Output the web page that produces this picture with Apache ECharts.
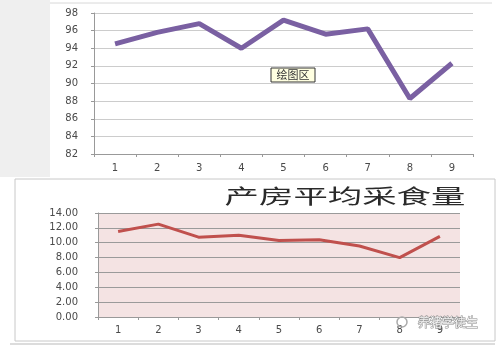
<!DOCTYPE html>
<html>
<head>
<meta charset="utf-8">
<script src="https://cdn.jsdelivr.net/npm/echarts@6/dist/echarts.min.js"></script>
<style>
  html, body { margin: 0; padding: 0; background: #fff; }
  #chart { width: 502px; height: 350px; }
</style>
</head>
<body>
<div id="chart"></div>
<script>
// 横轴 1~9
const categories = ['1', '2', '3', '4', '5', '6', '7', '8', '9'];
// 上图（紫色线）
const topValues = [94.5, 95.8, 96.8, 94.0, 97.2, 95.6, 96.2, 88.3, 92.3];
// 下图：产房平均采食量
const feedValues = [11.5, 12.5, 10.75, 11.0, 10.3, 10.4, 9.55, 8.0, 10.85];
const titleText = '产房平均采食量';
const plotTip = '绘图区';
const watermark = '养猪学徒生';

const chart = echarts.init(document.getElementById('chart'));

const labelFont = { color: '#4a4a4a', fontSize: 10, fontFamily: 'DejaVu Sans' };

chart.setOption({
    animation: false,
    backgroundColor: '#fff',
    grid: [
        { left: 94, right: 29, top: 13, height: 141, show: false },
        { left: 98, right: 42, top: 213, height: 104, show: true, backgroundColor: '#f4e3e3', borderWidth: 0 }
    ],
    xAxis: [
        {
            gridIndex: 0, type: 'category', data: categories, boundaryGap: true,
            axisLine: { lineStyle: { color: '#999' } },
            axisTick: { show: true, length: 3, lineStyle: { color: '#999' } },
            axisLabel: Object.assign({ margin: 9 }, labelFont)
        },
        {
            gridIndex: 1, type: 'category', data: categories, boundaryGap: true,
            axisLine: { lineStyle: { color: '#999' } },
            axisTick: { show: true, length: 3, lineStyle: { color: '#999' } },
            axisLabel: Object.assign({ margin: 8 }, labelFont)
        }
    ],
    yAxis: [
        {
            gridIndex: 0, type: 'value', min: 82, max: 98, interval: 2,
            axisLine: { show: true, lineStyle: { color: '#999' } },
            axisTick: { show: true, length: 3, lineStyle: { color: '#999' } },
            splitLine: { lineStyle: { color: '#cccccc' } },
            axisLabel: Object.assign({ margin: 16 }, labelFont)
        },
        {
            gridIndex: 1, type: 'value', min: 0, max: 14, interval: 2,
            axisLine: { show: true, lineStyle: { color: '#999' } },
            axisTick: { show: true, length: 3, lineStyle: { color: '#999' } },
            splitLine: { lineStyle: { color: '#9a9a9a' } },
            axisLabel: Object.assign({ margin: 20, formatter: v => v.toFixed(2) }, labelFont)
        }
    ],
    series: [
        {
            type: 'line', xAxisIndex: 0, yAxisIndex: 0, data: topValues,
            symbol: 'none', lineStyle: { color: '#7a60a2', width: 5 }
        },
        {
            type: 'line', xAxisIndex: 1, yAxisIndex: 1, data: feedValues,
            symbol: 'none', lineStyle: { color: '#c0504d', width: 3 }
        }
    ],
    graphic: [
        // 左侧灰条
        { type: 'rect', z: -10, shape: { x: 0, y: 0, width: 50, height: 177 }, style: { fill: '#efefef' } },
        { type: 'line', z: -9, shape: { x1: 50, y1: 3, x2: 492, y2: 3 }, style: { stroke: '#d8d8d8', lineWidth: 1 } },
        // 下图外框
        { type: 'rect', z: -9, shape: { x: 15, y: 179, width: 480, height: 162 }, style: { fill: '#fff', stroke: '#c8c8c8', lineWidth: 1 } },
        { type: 'line', z: -9, shape: { x1: 10, y1: 344, x2: 495, y2: 344 }, style: { stroke: '#dcdcdc', lineWidth: 2 } },
        {
            type: 'text', x: 345, y: 196, scaleX: 1.72,
            style: {
                text: titleText, textAlign: 'center', textVerticalAlign: 'middle',
                fontSize: 20, fontWeight: 'normal', fontFamily: 'Noto Sans CJK SC', fill: '#2a2a2a'
            }
        },
        // 绘图区 提示框
        {
            type: 'group', x: 271, y: 68, z: 100,
            children: [
                { type: 'rect', shape: { x: 0, y: 0, width: 44, height: 14 }, style: { fill: '#ffffe1', stroke: '#333', lineWidth: 1 } },
                {
                    type: 'text', x: 22, y: 7,
                    style: { text: plotTip, textAlign: 'center', textVerticalAlign: 'middle', fontSize: 11, fontFamily: 'Noto Sans CJK SC', fill: '#333' }
                }
            ]
        },
        // 水印
        { type: 'circle', shape: { cx: 402, cy: 322, r: 5 }, style: { fill: 'none', stroke: '#aaa', lineWidth: 1.5 }, z: 100 },
        {
            type: 'text', x: 418, y: 322, z: 100,
            style: {
                text: watermark, textVerticalAlign: 'middle', fontSize: 12,
                fontFamily: 'Noto Sans CJK SC', fill: '#f4f4f4', stroke: '#8a8a8a', lineWidth: 1
            }
        }
    ]
});
</script>
</body>
</html>
